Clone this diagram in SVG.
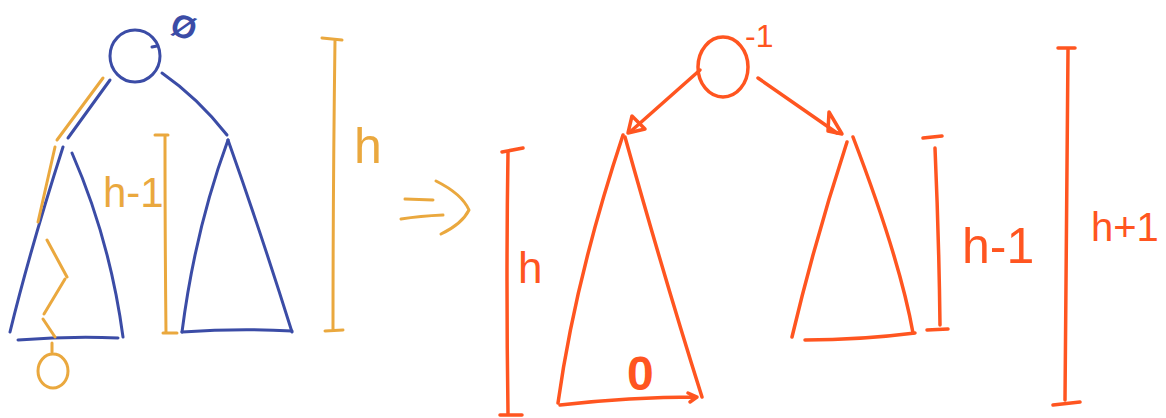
<svg xmlns="http://www.w3.org/2000/svg" width="1166" height="418" viewBox="0 0 1166 418">
<style>
.b{fill:none;stroke:#3b4ca6;stroke-width:3;stroke-linecap:round;stroke-linejoin:round}
.o{fill:none;stroke:#eaa83e;stroke-width:3;stroke-linecap:round;stroke-linejoin:round}
.r{fill:none;stroke:#ff5520;stroke-width:3.5;stroke-linecap:round;stroke-linejoin:round}
.to{fill:#eaa83e;font-family:"Liberation Sans",sans-serif}
.tr{fill:#ff5520;font-family:"Liberation Sans",sans-serif}
.tb{fill:#3b4ca6;font-family:"Liberation Sans",sans-serif;font-weight:bold}
</style>
<rect width="1166" height="418" fill="#ffffff"/>
<!-- Left (before) -->
<g id="left-root">
<ellipse class="b" cx="135" cy="56" rx="25" ry="26"/>
<path class="b" d="M152 47 L157 46"/>
<text class="tb" x="184" y="38" font-size="32" text-anchor="middle" transform="rotate(20 184 27)">Ø</text>
</g>
<g id="left-connectors">
<path class="b" d="M110 80 L68 138"/>
<path class="b" d="M162 73 Q198 98 227 135"/>
</g>
<g id="left-subtree-left">
<path class="b" d="M63 147 Q30 250 10 332"/>
<path class="b" d="M72 153 Q110 240 123 337"/>
<path class="b" d="M18 340 Q70 336 118 338"/>
</g>
<g id="left-subtree-right">
<path class="b" d="M228 140 Q195 230 182 332"/>
<path class="b" d="M228 140 Q260 230 292 332"/>
<path class="b" d="M182 332 Q240 328 292 331"/>
</g>
<g id="left-path">
<path class="o" d="M103 78 L57 140"/>
<path class="o" d="M55 147 L38 222"/>
<path class="o" d="M47 240 L67 277"/>
<path class="o" d="M65 279 L44 314"/>
<path class="o" d="M43 319 L55 337"/>
<path class="o" d="M52 343 L52 352"/>
<ellipse class="o" cx="53" cy="371" rx="15" ry="17"/>
</g>
<g id="left-bracket-h-1">
<path class="o" d="M155 135 L168 135 M165 135 Q165 240 166 333 M163 333 L177 333"/>
<text class="to" x="103" y="207" font-size="42">h-1</text>
</g>
<g id="left-bracket-h">
<path class="o" d="M322 38 L342 40 M335 40 Q333 190 333 330 M325 331 L343 330"/>
<text class="to" x="354" y="163" font-size="50">h</text>
</g>
<g id="implies">
<path class="o" d="M405 199 L433 200 M401 219 Q420 216 443 215 M436 181 Q462 194 469 210 Q462 224 441 234"/>
</g>
<!-- Right (after) -->
<g id="connectors">
<path class="r" d="M700 70 L630 132"/>
<path class="r" d="M632 116 L628 133 L645 129 Z"/>
<path class="r" d="M758 78 L837 133"/>
<path class="r" d="M829 112 L842 134 L828 131 Z"/>
</g>
<g id="right-root">
<ellipse class="r" cx="723" cy="67" rx="25" ry="30"/>
<text class="tr" x="745" y="47" font-size="32">-1</text>
</g>
<g id="right-subtree-left">
<path class="r" d="M623 135 Q575 280 558 403"/>
<path class="r" d="M625 137 Q665 280 702 397"/>
<path class="r" d="M560 405 Q630 397 697 397 M688 393 L697 397 L690 402"/>
<text class="tr" x="627" y="390" font-size="48" font-weight="bold">0</text>
</g>
<g id="right-subtree-right">
<path class="r" d="M847 142 Q815 240 792 337"/>
<path class="r" d="M853 137 Q900 260 913 333"/>
<path class="r" d="M805 340 Q860 340 915 333"/>
</g>
<g id="right-bracket-h">
<path class="r" d="M502 152 L523 148 M508 152 Q506 280 508 413 M500 415 L522 415"/>
<text class="tr" x="518" y="283" font-size="44">h</text>
</g>
<g id="right-bracket-h-1">
<path class="r" d="M923 138 L942 136 M935 148 Q939 240 940 325 M927 330 L948 329"/>
<text class="tr" x="962" y="263" font-size="50">h-1</text>
</g>
<g id="right-bracket-h+1">
<path class="r" d="M1058 48 L1075 48 M1068 50 Q1066 230 1065 400 M1053 405 L1080 402"/>
<text class="tr" x="1091" y="241" font-size="40">h+1</text>
</g>
</svg>
